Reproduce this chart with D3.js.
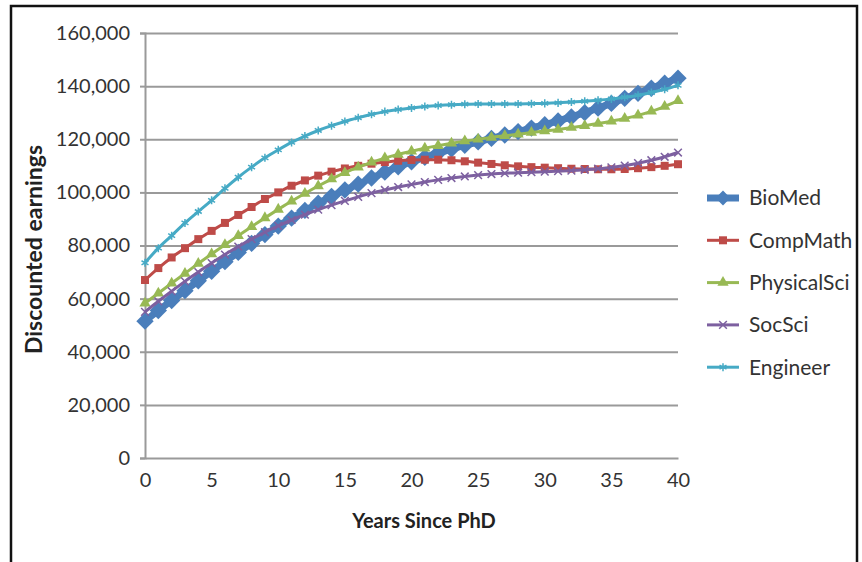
<!DOCTYPE html>
<html>
<head>
<meta charset="utf-8">
<script src="https://cdn.jsdelivr.net/npm/d3@7"></script>
<style>
  body { margin: 0; background: #fff; }
  svg text { font-family: Lato, "Open Sans", sans-serif; }
</style>
</head>
<body>
<div id="chart"></div>
<script>
// categories: years since PhD
let years = [0, 1, 2, 3, 4, 5, 6, 7, 8, 9, 10, 11, 12, 13, 14, 15, 16, 17, 18, 19, 20,
             21, 22, 23, 24, 25, 26, 27, 28, 29, 30, 31, 32, 33, 34, 35, 36, 37, 38, 39, 40];

// discounted earnings (thousands)
let bioMed = [51.5, 55.5, 59.3, 63, 66.7, 70.3, 73.9, 77.4, 80.8, 84.1, 87.3, 90.3, 93.2, 95.9, 98.5,
              100.9, 103.1, 105.4, 107.6, 109.6, 111.5, 113.2, 114.8, 116.3, 117.7, 119, 120.3, 121.6,
              122.9, 124.2, 125.5, 126.9, 128.4, 130, 131.7, 133.5, 135.4, 137.3, 139.2, 141.1, 143];
let compMath = [67, 71.5, 75.5, 79, 82.4, 85.5, 88.5, 91.5, 94.5, 97.5, 100, 102.5, 104.5, 106.3, 107.8,
                109, 110, 110.8, 111.4, 111.9, 112.2, 112.3, 112.3, 112.1, 111.7, 111.2, 110.7, 110.2,
                109.8, 109.5, 109.3, 109.1, 108.9, 108.8, 108.7, 108.7, 108.8, 109.1, 109.5, 110, 110.6];
let physicalSci = [58.3, 62, 65.8, 69.5, 73.2, 76.8, 80.3, 83.7, 87.1, 90.4, 93.6, 96.7, 99.6, 102.4, 105,
                   107.4, 109.5, 111.3, 112.9, 114.3, 115.5, 116.6, 117.6, 118.5, 119.3, 120, 120.7, 121.3,
                   121.9, 122.5, 123.1, 123.7, 124.4, 125.1, 125.9, 126.8, 127.8, 129, 130.5, 132.3, 134.5];
let socSci = [55, 59, 62.8, 66.5, 70, 73.4, 76.6, 79.6, 82.4, 85, 87.4, 89.6, 91.6, 93.5, 95.2,
              96.8, 98.3, 99.7, 100.9, 102, 103, 103.9, 104.7, 105.4, 106, 106.5, 106.9, 107.2,
              107.4, 107.6, 107.8, 108, 108.2, 108.5, 108.9, 109.4, 110.1, 111, 112.1, 113.4, 115];
let engineer = [73.5, 79, 83.7, 88.5, 92.8, 97, 101.5, 105.7, 109.5, 113, 116, 118.8, 121.2, 123.3, 125.1,
                126.7, 128.1, 129.4, 130.4, 131.2, 131.8, 132.3, 132.7, 133, 133.2, 133.3, 133.3, 133.3,
                133.3, 133.4, 133.5, 133.7, 134, 134.3, 134.7, 135.2, 135.8, 136.6, 137.6, 138.8, 140.3];

let seriesNames = ["BioMed", "CompMath", "PhysicalSci", "SocSci", "Engineer"];
let seriesValues = [bioMed, compMath, physicalSci, socSci, engineer];

let yTicks = [0, 20000, 40000, 60000, 80000, 100000, 120000, 140000, 160000];
let xTicks = [0, 5, 10, 15, 20, 25, 30, 35, 40];

let width = 862, height = 562;
let plot = { left: 145, right: 678, top: 33, bottom: 458 };

// Excel 2007 palette
let colors = ["#4a7ebb", "#be4b48", "#98b954", "#7d60a0", "#46aac5"];
let styles = [
  { shape: "diamond", size: 150, lw: 7 },
  { shape: "square", size: 64, lw: 3 },
  { shape: "triangle", size: 55, lw: 3 },
  { shape: "times", size: 40, lw: 3 },
  { shape: "star", size: 45, lw: 3 }
];

let svg = d3.select("#chart").append("svg")
  .attr("width", width)
  .attr("height", height);

svg.append("rect")
  .attr("width", width).attr("height", height)
  .attr("fill", "#fff");

// black frame around the picture
svg.append("rect")
  .attr("x", 11).attr("y", 6)
  .attr("width", 846).attr("height", 620)
  .attr("fill", "none")
  .attr("stroke", "#111")
  .attr("stroke-width", 2.5);

let x = d3.scaleLinear()
  .domain([0, 40])
  .range([plot.left, plot.right]);
let y = d3.scaleLinear()
  .domain([0, 160000])
  .range([plot.bottom, plot.top]);

// gridlines
let grid = svg.append("g")
  .attr("transform", `translate(${plot.left},0)`)
  .call(d3.axisLeft(y).tickValues(yTicks.slice(1)).tickSize(-(plot.right - plot.left)).tickFormat(""));
grid.select(".domain").remove();
grid.selectAll("line").attr("stroke", "#9a9a9a").attr("stroke-width", 2);

// y axis
let yAxis = svg.append("g")
  .attr("transform", `translate(${plot.left},0)`)
  .call(d3.axisLeft(y).tickValues(yTicks).tickSize(5).tickPadding(10).tickFormat(d3.format(",")));
yAxis.select(".domain").attr("stroke", "#9a9a9a").attr("stroke-width", 2);
yAxis.selectAll("line").attr("stroke", "#9a9a9a").attr("stroke-width", 2);
yAxis.selectAll("text")
  .attr("fill", "#333")
  .style("font-size", "20px");

// x axis
let xAxis = svg.append("g")
  .attr("transform", `translate(0,${plot.bottom})`)
  .call(d3.axisBottom(x).tickValues(xTicks).tickSize(0).tickPadding(15).tickSizeOuter(0));
xAxis.select(".domain").attr("stroke", "#9a9a9a").attr("stroke-width", 2);
xAxis.selectAll("text")
  .attr("fill", "#333")
  .style("font-size", "20px");

// axis titles
svg.append("text")
  .attr("transform", `translate(42,${(plot.top + plot.bottom) / 2 + 4}) rotate(-90)`)
  .attr("text-anchor", "middle")
  .attr("fill", "#222")
  .style("font-size", "23px")
  .style("font-weight", "bold")
  .text("Discounted earnings");

svg.append("text")
  .attr("x", 424)
  .attr("y", 528)
  .attr("text-anchor", "middle")
  .attr("fill", "#222")
  .style("font-size", "20px")
  .style("font-weight", "bold")
  .text("Years Since PhD");

let symbolFor = function(shape, size) {
  if (shape === "diamond") return d3.symbol(d3.symbolSquare, size)();
  if (shape === "square") return d3.symbol(d3.symbolSquare, size)();
  if (shape === "triangle") return d3.symbol(d3.symbolTriangle, size)();
  if (shape === "times") return d3.symbol(d3.symbolTimes || d3.symbolCross, size)();
  return d3.symbol(d3.symbolAsterisk || d3.symbolCross, size)();
};

let line = d3.line()
  .x((d, i) => { return x(years[i]) })
  .y(d => { return y(d * 1000) })
  .curve(d3.curveMonotoneX);

seriesValues.forEach((vals, k) => {
  let st = styles[k];
  let g = svg.append("g").attr("class", "series");

  g.append("path")
    .datum(vals)
    .attr("d", line)
    .attr("fill", "none")
    .attr("stroke", colors[k])
    .attr("stroke-width", st.lw)
    .attr("stroke-linejoin", "round");

  let stroked = st.shape === "times" || st.shape === "star";
  g.selectAll(".mk")
    .data(vals)
    .enter()
    .append("path")
      .attr("class", "mk")
      .attr("d", symbolFor(st.shape, st.size))
      .attr("transform", (d, i) => {
        let r = st.shape === "diamond" ? " rotate(45)" : "";
        return `translate(${x(years[i])},${y(d * 1000)})${r}`;
      })
      .attr("fill", stroked ? "none" : colors[k])
      .attr("stroke", colors[k])
      .attr("stroke-width", stroked ? 1.5 : 0);
});

// legend
let legend = svg.append("g").attr("class", "legend");
seriesNames.forEach((name, k) => {
  let st = styles[k];
  let ly = 198 + k * 42.3;
  let stroked = st.shape === "times" || st.shape === "star";
  legend.append("line")
    .attr("x1", 707).attr("x2", 739)
    .attr("y1", ly).attr("y2", ly)
    .attr("stroke", colors[k])
    .attr("stroke-width", st.lw);
  legend.append("path")
    .attr("d", symbolFor(st.shape, k === 0 ? 110 : st.size))
    .attr("transform", `translate(723,${ly})${st.shape === "diamond" ? " rotate(45)" : ""}`)
    .attr("fill", stroked ? "none" : colors[k])
    .attr("stroke", colors[k])
    .attr("stroke-width", stroked ? 1.5 : 0);
  legend.append("text")
    .attr("x", 749)
    .attr("y", ly)
    .attr("dy", "0.35em")
    .attr("fill", "#333")
    .style("font-size", "21px")
    .text(name);
});
</script>
</body>
</html>
